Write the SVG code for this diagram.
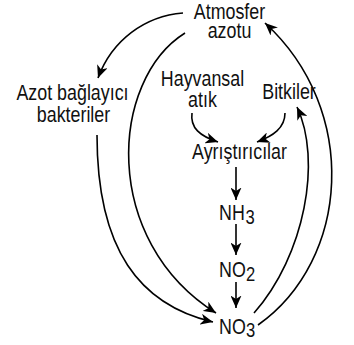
<svg xmlns="http://www.w3.org/2000/svg" width="354" height="345" viewBox="0 0 354 345">
<defs>
<style>
text{font-family:"Liberation Sans",Arial,sans-serif;font-size:21.5px;fill:#111}
.m{text-anchor:middle}
.d{font-size:20px}
.c path{fill:none;stroke:#000;stroke-width:1.6;marker-end:url(#ah)}
</style>
<marker id="ah" markerUnits="userSpaceOnUse" markerWidth="13" markerHeight="11" viewBox="0 0 13 11" refX="12.5" refY="5.5" orient="auto">
<path d="M0,0 L12.5,5.5 L0,11 L3.5,5.5 z" fill="#000"/>
</marker>
</defs>
<rect width="354" height="345" fill="#fff"/>
<g class="c" id="connectors">
<path d="M183,13 C145,16 112,40 98,78"/>
<path d="M97,135 C97,250 140,305 213,322"/>
<path d="M185,33 C110,80 100,240 216,313"/>
<path d="M254,313 C305,255 322,160 297,107"/>
<path d="M258,325 C350,260 360,110 265,23"/>
<path d="M192,113 C190,128 200,136 218,142"/>
<path d="M285,113 C285,128 273,136 257,142"/>
<path d="M236,167 L236,200"/>
<path d="M236,224 L236,255"/>
<path d="M236,282 L236,308"/>
</g>
<g id="atmosfer"><text class="m" transform="matrix(0.83,0,0,1,229.5,19)">Atmosfer</text><text class="m" transform="matrix(0.83,0,0,1,229.5,38)">azotu</text></g>
<g id="azot"><text class="m" transform="matrix(0.83,0,0,1,72.5,100)">Azot bağlayıcı</text><text class="m" transform="matrix(0.83,0,0,1,73.5,122)">bakteriler</text></g>
<g id="hayvansal"><text class="m" transform="matrix(0.83,0,0,1,202.5,86)">Hayvansal</text><text class="m" transform="matrix(0.83,0,0,1,202.5,107)">atık</text></g>
<g id="bitkiler"><text class="m" transform="matrix(0.83,0,0,1,289,99)">Bitkiler</text></g>
<g id="ayristiricilar"><text class="m" transform="matrix(0.83,0,0,1,239.5,158.5)">Ayrıştırıcılar</text></g>
<g id="nh3"><text transform="matrix(0.83,0,0,1,219,220)">NH</text><text class="d" transform="matrix(0.83,0,0,1,245.5,223.5)">3</text></g>
<g id="no2"><text transform="matrix(0.83,0,0,1,219,277)">NO</text><text class="d" transform="matrix(0.83,0,0,1,246,280.5)">2</text></g>
<g id="no3"><text transform="matrix(0.83,0,0,1,219,333.5)">NO</text><text class="d" transform="matrix(0.83,0,0,1,246,337)">3</text></g>
</svg>
